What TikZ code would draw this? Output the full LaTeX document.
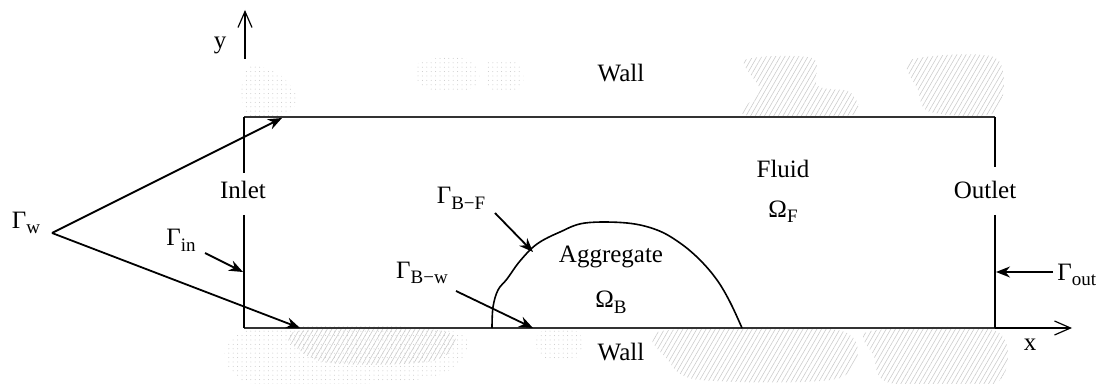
\documentclass[tikz,border=0pt]{standalone}
\usepackage{fontspec}
\setmainfont{Liberation Serif}
\usetikzlibrary{arrows.meta, positioning, patterns.meta}

\newcommand{\symsub}[2]{#1\raisebox{-0.5ex}{\fontsize{9.5}{10}\selectfont #2}}

\begin{document}
\begin{tikzpicture}[
        x=0.5pt, y=-0.5pt,
        lbl/.style={inner sep=0pt, font=\fontsize{12.5}{15}\selectfont},
        wall/.style={line width=1pt},
        rim/.style={line width=0.6pt, black!80},
        arr/.style={-{Stealth[length=7pt, width=5.5pt]}, line width=0.9pt},
        axis/.style={-{Straight Barb[length=8pt, width=7pt]}, line width=0.6pt},
        dense/.style={pattern={Lines[angle=60, distance=2pt, line width=0.3pt]}, pattern color=gray!40},
        sparse/.style={pattern={Dots[radius=0.25pt, distance=2.2pt]}, pattern color=gray!45}
    ]
        \useasboundingbox (0,0) rectangle (1096,384);

        % Wall texture
        \fill[sparse] plot[smooth cycle, tension=0.7] coordinates {(246,70) (275,72) (296,95) (285,114) (247,114)};
        \fill[sparse] plot[smooth cycle, tension=0.7] coordinates {(420,62) (470,60) (476,86) (440,90) (420,84)};
        \fill[sparse] plot[smooth cycle, tension=0.7] coordinates {(488,62) (518,64) (520,88) (490,90)};
        \fill[dense] plot[smooth cycle, tension=0.5] coordinates {(745,60) (812,58) (818,86) (850,92) (852,115) (745,115) (760,90)};
        \fill[dense] plot[smooth cycle, tension=0.5] coordinates {(910,60) (996,58) (996,112) (930,112) (918,90)};
        \fill[sparse] plot[smooth cycle, tension=0.6] coordinates {(246,331) (452,331) (450,370) (380,383) (246,382)};
        \fill[dense] plot[smooth cycle, tension=0.6] coordinates {(298,331) (444,331) (436,360) (340,364) (302,352)};
        \fill[sparse] plot[smooth cycle, tension=0.7] coordinates {(540,332) (578,332) (576,358) (542,356)};
        \fill[dense] plot[smooth cycle, tension=0.5] coordinates {(662,331) (842,331) (840,378) (700,380) (668,360)};
        \fill[dense] plot[smooth cycle, tension=0.5] coordinates {(870,331) (996,331) (996,383) (890,383) (874,356)};

        % Channel corners
        \coordinate (tl) at (244,117);
        \coordinate (tr) at (995,117);
        \coordinate (bl) at (244,328);
        \coordinate (br) at (995,328);
        \coordinate (in1) at (244,173);
        \coordinate (in2) at (244,215);
        \coordinate (out1) at (995,167);
        \coordinate (out2) at (995,215);

        % Channel walls
        \draw[rim] (tl) -- (tr);
        \draw[rim] (bl) -- (br);
        \draw[wall] (tl) -- (in1);
        \draw[wall] (in2) -- (bl);
        \draw[wall] (tr) -- (out1);
        \draw[wall] (out2) -- (br);

        % Axes
        \coordinate (yend) at (245,10);
        \coordinate (ystart) at (245,59);
        \coordinate (xend) at (1072,328);
        \draw[axis] (ystart) -- (yend);
        \draw[axis] (br) -- (xend);
        \node[lbl] (ylab) at (220,45) {y};
        \node[lbl] (xlab) at (1030,345) {x};

        % Aggregate
        \draw[line width=0.8pt] plot[smooth, tension=0.6] coordinates {(492,328) (493,307) (498,290) (507,279) (520,261) (537,244) (560,232) (585,223) (627,223) (657,230) (680,243) (700,260) (717,280) (730,302) (742,328)};

        % Labels
        \node[lbl] (wallT) at (621,73) {Wall};
        \node[lbl] (wallB) at (621,352) {Wall};
        \node[lbl] (inlet) at (243,190) {Inlet};
        \node[lbl] (outlet) at (985,190) {Outlet};
        \node[lbl] (fluid) at (783,169) {Fluid};
        \node[lbl, below=11pt of fluid] (omegaF) {\symsub{Ω}{F}};
        \node[lbl] (aggr) at (611,257) {Aggregate};
        \node[lbl, below=11pt of aggr] (omegaB) {\symsub{Ω}{B}};
        \node[lbl] (gammaW) at (26,223) {\symsub{Γ}{w}};
        \node[lbl] (gammaIn) at (181,240) {\symsub{Γ}{in}};
        \node[lbl] (gammaBF) at (461,198) {\symsub{Γ}{B−F}};
        \node[lbl] (gammaBW) at (422,273) {\symsub{Γ}{B−w}};
        \node[lbl, anchor=west] (gammaOut) at (1057,275) {\symsub{Γ}{out}};

        % Boundary pointers
        \coordinate (gw) at (52,233);
        \coordinate (gwtop) at (282,118);
        \coordinate (gwbot) at (300,328);
        \coordinate (gin) at (205,253);
        \coordinate (gintip) at (243,272);
        \coordinate (gbf) at (495,213);
        \coordinate (gbftip) at (533,252);
        \coordinate (gbw) at (456,291);
        \coordinate (gbwtip) at (533,328);
        \coordinate (gout) at (1053,272);
        \coordinate (gouttip) at (996,272);
        \draw[arr] (gw) -- (gwtop);
        \draw[arr] (gw) -- (gwbot);
        \draw[arr] (gin) -- (gintip);
        \draw[arr] (gbf) -- (gbftip);
        \draw[arr] (gbw) -- (gbwtip);
        \draw[arr] (gout) -- (gouttip);
    \end{tikzpicture}
\end{document}
